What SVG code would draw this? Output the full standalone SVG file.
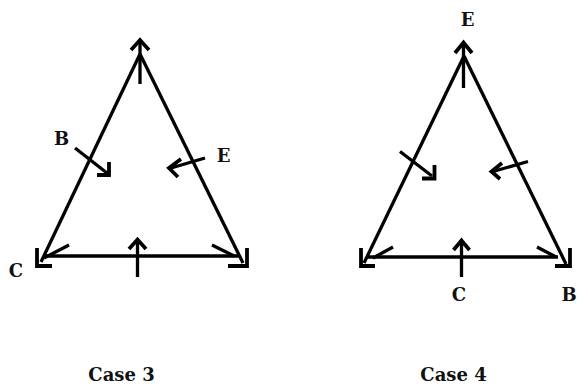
<svg xmlns="http://www.w3.org/2000/svg" width="577" height="387" viewBox="0 0 577 387">
<style>
.ln{stroke:#000;stroke-width:3.3;fill:none;stroke-linecap:butt}
.hd{stroke:#000;stroke-width:3.8;fill:none;stroke-linejoin:miter;stroke-linecap:butt}
.lb{font-family:"DejaVu Serif","Liberation Serif",serif;font-weight:bold;font-size:18px;fill:#111;text-anchor:middle}
</style>
<rect width="577" height="387" fill="#fff"/>
<g id="connectors">
  <!-- Case 3 -->
  <g id="case3-lines">
    <line class="ln" x1="140" y1="54" x2="41" y2="262"/>
    <line class="ln" x1="140" y1="54" x2="243" y2="263"/>
    <line class="ln" x1="44" y1="256" x2="240" y2="256"/>
    <line class="ln" x1="140" y1="84" x2="140" y2="41"/>
    <polyline class="hd" points="131,50 140,40 149,50"/>
    <polyline class="hd" points="37,248 37,266 52,266"/>
    <line class="ln" x1="44" y1="258" x2="69" y2="245"/>
    <polyline class="hd" points="228,266 247,266 247,248"/>
    <line class="ln" x1="212" y1="245" x2="234" y2="256"/>
    <line class="ln" x1="137.5" y1="277" x2="137.5" y2="240"/>
    <polyline class="hd" points="129,249 137.5,239.5 146,249"/>
    <line class="ln" x1="75" y1="148" x2="107" y2="173"/>
    <polyline class="hd" points="109,162 109,175 97,175"/>
    <line class="ln" x1="205" y1="158" x2="171" y2="168"/>
    <polyline class="hd" points="181,159 169,168 178,177"/>
  </g>
  <!-- Case 4 -->
  <g id="case4-lines">
    <line class="ln" x1="464" y1="56" x2="364" y2="263"/>
    <line class="ln" x1="464" y1="56" x2="566" y2="264"/>
    <line class="ln" x1="368" y1="257" x2="558" y2="257"/>
    <line class="ln" x1="463.5" y1="88" x2="463.5" y2="43"/>
    <polyline class="hd" points="455,53 463.5,42.5 472,53"/>
    <polyline class="hd" points="361,248 361,266 375,266"/>
    <line class="ln" x1="373" y1="258" x2="393" y2="247"/>
    <polyline class="hd" points="555,266 570,266 570,248"/>
    <line class="ln" x1="537" y1="247" x2="556" y2="257"/>
    <line class="ln" x1="461.5" y1="277" x2="461.5" y2="241"/>
    <polyline class="hd" points="453.5,250 461.5,240.5 469.5,250"/>
    <line class="ln" x1="400" y1="151.5" x2="432" y2="176"/>
    <polyline class="hd" points="434.5,165 434.5,178.5 422,178.5"/>
    <line class="ln" x1="528" y1="161.5" x2="493" y2="171.5"/>
    <polyline class="hd" points="502,163 491.5,171.5 500,179"/>
  </g>
</g>
<g id="case3">
  <g id="c3-B"><text class="lb" x="61.5" y="145">B</text></g>
  <g id="c3-E"><text class="lb" x="223.5" y="162">E</text></g>
  <g id="c3-C"><text class="lb" x="16" y="277">C</text></g>
  <g id="c3-title"><text class="lb" x="121.5" y="381">Case 3</text></g>
</g>
<g id="case4">
  <g id="c4-E"><text class="lb" x="467.5" y="26">E</text></g>
  <g id="c4-C"><text class="lb" x="459" y="301">C</text></g>
  <g id="c4-B"><text class="lb" x="569" y="301">B</text></g>
  <g id="c4-title"><text class="lb" x="453.5" y="381">Case 4</text></g>
</g>
</svg>
